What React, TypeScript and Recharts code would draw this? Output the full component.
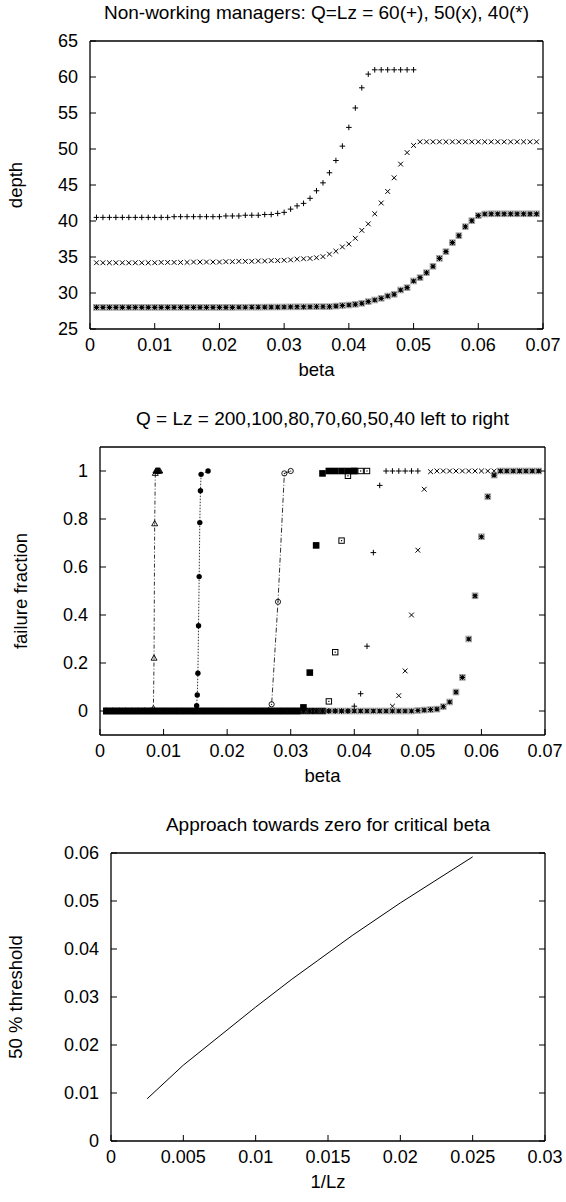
import React from 'react'
import { ScatterChart, Scatter, XAxis, YAxis } from 'recharts'

const FONT = '"Liberation Sans", Arial, Helvetica, sans-serif'
const K = '#000'
const GAP = 12 // distance between frame and tick text anchor
const TL = 6 // inward tick length

// beta grid shared by the two upper panels
const betaGrid = [
  0.001, 0.002, 0.003, 0.004, 0.005, 0.006, 0.007, 0.008, 0.009, 0.010,
  0.011, 0.012, 0.013, 0.014, 0.015, 0.016, 0.017, 0.018, 0.019, 0.020,
  0.021, 0.022, 0.023, 0.024, 0.025, 0.026, 0.027, 0.028, 0.029, 0.030,
  0.031, 0.032, 0.033, 0.034, 0.035, 0.036, 0.037, 0.038, 0.039, 0.040,
  0.041, 0.042, 0.043, 0.044, 0.045, 0.046, 0.047, 0.048, 0.049, 0.050,
  0.051, 0.052, 0.053, 0.054, 0.055, 0.056, 0.057, 0.058, 0.059, 0.060,
  0.061, 0.062, 0.063, 0.064, 0.065, 0.066, 0.067, 0.068, 0.069,
]

// panel 1: depth, Q=Lz = 60 (+), 50 (x), 40 (*)
const depth60 = [
  40.5, 40.5, 40.5, 40.5, 40.5, 40.5, 40.5, 40.5, 40.5, 40.5,
  40.5, 40.5, 40.6, 40.6, 40.6, 40.6, 40.6, 40.6, 40.6, 40.6,
  40.7, 40.7, 40.7, 40.8, 40.8, 40.8, 40.9, 40.9, 41.05, 41.2,
  41.65, 42.1, 42.45, 43.15, 44.2, 45.3, 46.7, 48.4, 50.4, 53.0,
  55.7, 58.5, 60.4, 61.0, 61.0, 61.0, 61.0, 61.0, 61.0, 61.0,
]
const depth50 = [
  34.2, 34.2, 34.2, 34.2, 34.2, 34.2, 34.2, 34.2, 34.2, 34.2,
  34.25, 34.25, 34.25, 34.25, 34.25, 34.3, 34.3, 34.3, 34.3, 34.3,
  34.35, 34.35, 34.4, 34.4, 34.4, 34.45, 34.45, 34.5, 34.5, 34.55,
  34.6, 34.7, 34.75, 34.8, 34.9, 35.05, 35.4, 35.8, 36.4, 36.8,
  37.6, 38.7, 39.6, 41.0, 42.5, 44.1, 46.0, 47.9, 49.5, 50.5,
  51.0, 51.0, 51.0, 51.0, 51.0, 51.0, 51.0, 51.0, 51.0, 51.0,
  51.0, 51.0, 51.0, 51.0, 51.0, 51.0, 51.0, 51.0, 51.0,
]
const depth40 = [
  28.0, 28.0, 28.0, 28.0, 28.0, 28.0, 28.0, 28.0, 28.0, 28.0,
  28.0, 28.0, 28.0, 28.0, 28.0, 28.0, 28.0, 28.0, 28.0, 28.0,
  28.0, 28.0, 28.02, 28.02, 28.03, 28.03, 28.04, 28.05, 28.05, 28.06,
  28.07, 28.08, 28.08, 28.09, 28.1, 28.1, 28.1, 28.18, 28.26, 28.33,
  28.43, 28.57, 28.8, 29.03, 29.26, 29.58, 29.82, 30.42, 30.74, 31.67,
  32.13, 32.82, 33.71, 34.81, 35.74, 36.99, 37.96, 39.21, 40.04, 40.74,
  40.97, 41.0, 41.0, 41.0, 41.0, 41.0, 41.0, 41.0, 41.0,
]

// panel 2: failure fraction on the 0.001 grid
const fail80 = [
  0, 0, 0, 0, 0, 0, 0, 0, 0, 0, 0, 0, 0, 0, 0, 0, 0, 0, 0, 0,
  0, 0, 0, 0, 0, 0, 0, 0, 0, 0, 0, 0.015, 0.16, 0.69, 0.99, 1, 1, 1, 1, 1,
]
const fail70 = [
  0, 0, 0, 0, 0, 0, 0, 0, 0, 0, 0, 0, 0, 0, 0, 0, 0, 0, 0, 0,
  0, 0, 0, 0, 0, 0, 0, 0, 0, 0, 0, 0, 0, 0, 0, 0.04, 0.245, 0.71, 0.98, 1,
  1, 1,
]
const fail60 = [
  0, 0, 0, 0, 0, 0, 0, 0, 0, 0, 0, 0, 0, 0, 0, 0, 0, 0, 0, 0,
  0, 0, 0, 0, 0, 0, 0, 0, 0, 0, 0, 0, 0, 0, 0, 0, 0, 0, 0, 0.02,
  0.072, 0.27, 0.66, 0.94, 1, 1, 1, 1, 1, 1,
]
const fail50 = [
  0, 0, 0, 0, 0, 0, 0, 0, 0, 0, 0, 0, 0, 0, 0, 0, 0, 0, 0, 0,
  0, 0, 0, 0, 0, 0, 0, 0, 0, 0, 0, 0, 0, 0, 0, 0, 0, 0, 0, 0,
  0, 0, 0, 0, 0, 0.02, 0.064, 0.167, 0.4, 0.67, 0.924, 0.997, 1, 1, 1, 1, 1, 1, 1, 1,
  1, 1, 1, 1, 1, 1, 1, 1, 1,
]
const fail40 = [
  0, 0, 0, 0, 0, 0, 0, 0, 0, 0, 0, 0, 0, 0, 0, 0, 0, 0, 0, 0,
  0, 0, 0, 0, 0, 0, 0, 0, 0, 0, 0, 0, 0, 0, 0, 0, 0, 0, 0, 0,
  0, 0, 0, 0, 0, 0, 0, 0, 0, 0.002, 0.004, 0.006, 0.008, 0.018, 0.0375, 0.079, 0.14, 0.3, 0.48, 0.726,
  0.893, 0.983, 1, 1, 1, 1, 1, 1, 1,
]

// finer sampling near the jump for the three leftmost curves
const fineBeta400 = [0.0084, 0.0085, 0.0086, 0.0087, 0.0088, 0.0089, 0.009, 0.0091, 0.0092, 0.0093, 0.0094]
const fail400 = [0, 0, 0, 0, 0, 0, 0, 0, 0.01, 0.22, 0.78, 0.99, 1, 1, 1, 1, 1, 1, 1]
const fineBeta200 = [0.0152, 0.0153, 0.0154, 0.0155, 0.0156, 0.0157, 0.0158, 0.0159, 0.017]
const fail200 = [0, 0, 0, 0, 0, 0, 0, 0, 0, 0, 0, 0, 0, 0, 0, 0.022, 0.067, 0.157, 0.355, 0.56, 0.785, 0.918, 0.986, 1]
const fineBeta100 = [0.027, 0.028, 0.029, 0.03]
const fail100 = [0, 0, 0, 0, 0, 0, 0, 0, 0, 0, 0, 0, 0, 0, 0, 0, 0, 0, 0, 0, 0, 0, 0, 0, 0, 0, 0.028, 0.455, 0.99, 1]

// panel 3: 50% threshold vs 1/Lz
const invLz = [0.0025, 0.005, 0.01, 0.0125, 0.01429, 0.01667, 0.02, 0.025]
const threshold = [0.0088, 0.0158, 0.0279, 0.0337, 0.0376, 0.0428, 0.0496, 0.0592]

// ticks
const betaTicks = [0, 0.01, 0.02, 0.03, 0.04, 0.05, 0.06, 0.07]
const depthTicks = [25, 30, 35, 40, 45, 50, 55, 60, 65]
const failTicks = [0, 0.2, 0.4, 0.6, 0.8, 1]
const invLzTicks = [0, 0.005, 0.01, 0.015, 0.02, 0.025, 0.03]
const thrTicks = [0, 0.01, 0.02, 0.03, 0.04, 0.05, 0.06]

const pts = (xs: number[], ys: number[]) => ys.map((y, i) => ({ x: xs[i], y }))

const Tick = (props: any) => {
  const { x, y, payload, side } = props
  const txt = String(payload.value)
  const st = { fontFamily: FONT, fontSize: 18 }
  if (side === 'bottom') {
    const ay = y - GAP
    return (
      <g>
        <line x1={x} y1={ay} x2={x} y2={ay - TL} stroke={K} />
        <text x={x} y={ay + 21.5} textAnchor="middle" fill={K} style={st}>{txt}</text>
      </g>
    )
  }
  if (side === 'left') {
    const ax = x + GAP
    return (
      <g>
        <line x1={ax} y1={y} x2={ax + TL} y2={y} stroke={K} />
        <text x={x} y={y + 6.3} textAnchor="end" fill={K} style={st}>{txt}</text>
      </g>
    )
  }
  if (side === 'top') {
    const ay = y + GAP
    return <line x1={x} y1={ay} x2={x} y2={ay + TL} stroke={K} />
  }
  const ax = x - GAP
  return <line x1={ax} y1={y} x2={ax - TL} y2={y} stroke={K} />
}

const Caption = (props: any) => {
  const { px, py, text, size = 18.5, vertical } = props
  return (
    <text
      x={px}
      y={py}
      textAnchor="middle"
      dominantBaseline="central"
      transform={vertical ? `rotate(-90 ${px} ${py})` : undefined}
      fill={K}
      style={{ fontFamily: FONT, fontSize: size }}
    >
      {text}
    </text>
  )
}

// point shapes, gnuplot style
const Plus = ({ cx, cy }: any) => (
  <path d={`M${cx - 2.8},${cy}h5.6M${cx},${cy - 2.8}v5.6`} stroke={K} strokeWidth={1} fill="none" />
)
const Cross = ({ cx, cy }: any) => (
  <path d={`M${cx - 2.4},${cy - 2.4}l4.8,4.8M${cx - 2.4},${cy + 2.4}l4.8,-4.8`} stroke={K} strokeWidth={1} fill="none" />
)
const Star = ({ cx, cy }: any) => (
  <g>
    <rect x={cx - 2.9} y={cy - 2.9} width={5.8} height={5.8} fill="none" stroke="#a0a0a0" strokeWidth={0.8} />
    <path
      d={`M${cx - 2.6},${cy}h5.2M${cx},${cy - 2.6}v5.2M${cx - 2.2},${cy - 2.2}l4.4,4.4M${cx - 2.2},${cy + 2.2}l4.4,-4.4`}
      stroke={K}
      strokeWidth={1.1}
      fill="none"
    />
  </g>
)
const BoxFilled = ({ cx, cy }: any) => <rect x={cx - 3.3} y={cy - 3.3} width={6.6} height={6.6} fill={K} />
const BoxOpen = ({ cx, cy }: any) => (
  <g>
    <rect x={cx - 2.7} y={cy - 2.7} width={5.4} height={5.4} fill="none" stroke={K} strokeWidth={1} />
    <rect x={cx - 0.6} y={cy - 0.6} width={1.2} height={1.2} fill={K} />
  </g>
)
const DotFilled = ({ cx, cy }: any) => <circle cx={cx} cy={cy} r={2.7} fill={K} />
const DotOpen = ({ cx, cy }: any) => (
  <g>
    <circle cx={cx} cy={cy} r={2.6} fill="none" stroke={K} strokeWidth={0.9} />
    <circle cx={cx} cy={cy} r={0.6} fill={K} />
  </g>
)
const Tri = ({ cx, cy }: any) => (
  <g>
    <path d={`M${cx},${cy - 3.2}L${cx + 3},${cy + 2}L${cx - 3},${cy + 2}Z`} fill="none" stroke={K} strokeWidth={0.9} />
    <circle cx={cx} cy={cy} r={0.5} fill={K} />
  </g>
)
const NoDot = () => <g />

interface PanelProps {
  top: number
  height: number
  left: number
  right: number
  plotTop: number
  plotBottom: number
  xDomain: number[]
  xTicks: number[]
  yDomain: number[]
  yTicks: number[]
  title: string
  xLabel: string
  yLabel: string
  yLabelX: number
  children: React.ReactNode
}

function Panel(p: PanelProps) {
  const margin = {
    top: p.plotTop - p.top - 10,
    right: 566 - p.right - 10,
    bottom: p.top + p.height - p.plotBottom - 40,
    left: p.left - 60,
  }
  const midX = (p.left + p.right) / 2
  const midY = (p.plotTop + p.plotBottom) / 2 - p.top
  const axisLine = { stroke: K, strokeWidth: 1.3 }
  return (
    <div style={{ position: 'absolute', left: 0, top: p.top, width: 566, height: p.height }}>
      <ScatterChart width={566} height={p.height} margin={margin}>
        <XAxis
          type="number" dataKey="x" domain={p.xDomain} ticks={p.xTicks} interval={0}
          allowDataOverflow height={40} tickSize={0} tickMargin={GAP} tickLine={false}
          axisLine={axisLine} tick={(t: any) => <Tick {...t} side="bottom" />}
          label={<Caption px={midX} py={p.plotBottom - p.top + 40} text={p.xLabel} />}
        />
        <XAxis
          xAxisId="top" orientation="top" type="number" domain={p.xDomain} ticks={p.xTicks}
          interval={0} allowDataOverflow height={10} tickSize={0} tickMargin={GAP} tickLine={false}
          axisLine={axisLine} tick={(t: any) => <Tick {...t} side="top" />}
          label={<Caption px={midX} py={p.plotTop - p.top - 29} text={p.title} size={19} />}
        />
        <YAxis
          type="number" dataKey="y" domain={p.yDomain} ticks={p.yTicks} interval={0}
          allowDataOverflow width={60} tickSize={0} tickMargin={GAP} tickLine={false}
          axisLine={axisLine} tick={(t: any) => <Tick {...t} side="left" />}
          label={<Caption px={p.yLabelX} py={midY} text={p.yLabel} vertical />}
        />
        <YAxis
          yAxisId="right" orientation="right" type="number" domain={p.yDomain} ticks={p.yTicks}
          interval={0} allowDataOverflow width={10} tickSize={0} tickMargin={GAP} tickLine={false}
          axisLine={axisLine} tick={(t: any) => <Tick {...t} side="right" />}
        />
        {p.children}
      </ScatterChart>
    </div>
  )
}

export default function App() {
  const betaL400 = [...betaGrid.slice(0, 8), ...fineBeta400]
  const betaL200 = [...betaGrid.slice(0, 15), ...fineBeta200]
  const betaL100 = [...betaGrid.slice(0, 26), ...fineBeta100]

  return (
    <div style={{ position: 'absolute', left: 0, top: 0, width: 566, height: 1202, background: '#fff' }}>
      <Panel
        top={0} height={395} left={90} right={543} plotTop={41} plotBottom={329}
        xDomain={[0, 0.07]} xTicks={betaTicks} yDomain={[25, 65]} yTicks={depthTicks}
        title="Non-working managers: Q=Lz = 60(+), 50(x), 40(*)" xLabel="beta" yLabel="depth" yLabelX={15}
      >
        <Scatter data={pts(betaGrid, depth60)} shape={Plus} isAnimationActive={false} />
        <Scatter data={pts(betaGrid, depth50)} shape={Cross} isAnimationActive={false} />
        <Scatter data={pts(betaGrid, depth40)} shape={Star} isAnimationActive={false} />
      </Panel>

      <Panel
        top={395} height={405} left={100} right={545} plotTop={447} plotBottom={735}
        xDomain={[0, 0.07]} xTicks={betaTicks} yDomain={[-0.1, 1.1]} yTicks={failTicks}
        title="Q = Lz = 200,100,80,70,60,50,40 left to right" xLabel="beta" yLabel="failure fraction" yLabelX={20}
      >
        <Scatter data={pts(betaGrid, fail50)} shape={Cross} isAnimationActive={false} />
        <Scatter data={pts(betaGrid, fail40)} shape={Star} isAnimationActive={false} />
        <Scatter data={pts(betaGrid, fail60)} shape={Plus} isAnimationActive={false} />
        <Scatter data={pts(betaGrid, fail70)} shape={BoxOpen} isAnimationActive={false} />
        <Scatter
          data={pts(betaL100, fail100)} shape={DotOpen} isAnimationActive={false}
          line={{ stroke: '#333', strokeWidth: 1, strokeDasharray: '5 2 1 2' }}
        />
        <Scatter
          data={pts(betaL200, fail200)} shape={DotFilled} isAnimationActive={false}
          line={{ stroke: '#333', strokeWidth: 1, strokeDasharray: '1.5 1.5' }}
        />
        <Scatter
          data={pts(betaL400, fail400)} shape={Tri} isAnimationActive={false}
          line={{ stroke: '#333', strokeWidth: 1, strokeDasharray: '4 2 1 2' }}
        />
        <Scatter data={pts(betaGrid, fail80)} shape={BoxFilled} isAnimationActive={false} />
      </Panel>

      <Panel
        top={800} height={402} left={111} right={545} plotTop={853} plotBottom={1141}
        xDomain={[0, 0.03]} xTicks={invLzTicks} yDomain={[0, 0.06]} yTicks={thrTicks}
        title="Approach towards zero for critical beta" xLabel="1/Lz" yLabel="50 % threshold" yLabelX={15}
      >
        <Scatter
          data={pts(invLz, threshold)} shape={NoDot} isAnimationActive={false}
          line={{ stroke: K, strokeWidth: 1 }}
        />
      </Panel>
    </div>
  )
}
